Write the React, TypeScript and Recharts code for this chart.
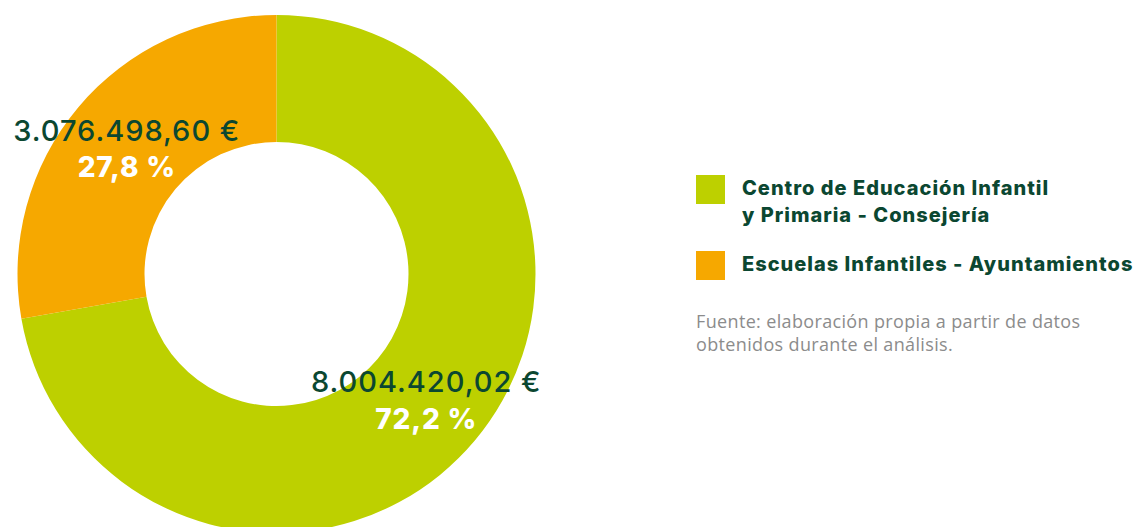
import { Cell, Legend, Pie, PieChart } from 'recharts';

// Chart data
const categories = ['Centro de Educación Infantil\ny Primaria - Consejería', 'Escuelas Infantiles - Ayuntamientos'];
const amounts = [8004420.02, 3076498.6];
const colors = ['#BDD000', '#F6A800'];
const sourceNote = ['Fuente: elaboración propia a partir de datos', 'obtenidos durante el análisis.'];

const data = categories.map((name, i) => ({ name, value: amounts[i], color: colors[i] }));

const DARK = '#0B4731';
const RADIAN = Math.PI / 180;

const formatEuro = (v: number) => {
    const [intPart, dec] = v.toFixed(2).split('.');
    const grouped = intPart.replace(/\B(?=(\d{3})+(?!\d))/g, '.');
    return `${grouped},${dec} €`;
};

const renderLabel = (props: any) => {
    const { cx, cy, midAngle, innerRadius, outerRadius, value, percent } = props;
    const r = (innerRadius + outerRadius) / 2;
    const x = cx + r * Math.cos(-midAngle * RADIAN);
    const y = cy + r * Math.sin(-midAngle * RADIAN);
    const pct = `${(percent * 100).toFixed(1).replace('.', ',')} %`;
    return (
        <g>
            <text
                x={x}
                y={y - 18}
                textAnchor="middle"
                dominantBaseline="central"
                fill={DARK}
                fontSize={29}
                fontWeight={500}
                letterSpacing={1}
                fontFamily="Inter, sans-serif"
            >
                {formatEuro(value)}
            </text>
            <text
                x={x}
                y={y + 19}
                textAnchor="middle"
                dominantBaseline="central"
                fill="#FFFFFF"
                fontSize={28}
                fontWeight={800}
                letterSpacing={0.8}
                fontFamily="Inter, sans-serif"
            >
                {pct}
            </text>
        </g>
    );
};

const CustomLegend = () => (
    <div style={{ fontFamily: 'Inter, sans-serif' }}>
        {data.map((d, i) => (
            <div key={i} style={{ display: 'flex', alignItems: 'flex-start', marginBottom: i === 0 ? 22 : 0 }}>
                <div style={{ width: 29, height: 29, background: d.color, flexShrink: 0 }} />
                <div
                    style={{
                        marginLeft: 17,
                        color: DARK,
                        fontWeight: 800,
                        fontSize: 20,
                        letterSpacing: 1,
                        lineHeight: '27px',
                        whiteSpace: 'pre',
                        marginTop: 0,
                    }}
                >
                    {d.name}
                </div>
            </div>
        ))}
        <div
            style={{
                marginTop: 30,
                color: '#8C8C8C',
                fontSize: 18,
                letterSpacing: 0.35,
                lineHeight: '23px',
                fontFamily: '"Open Sans", sans-serif',
            }}
        >
            {sourceNote.map((line, i) => (
                <div key={i}>{line}</div>
            ))}
        </div>
    </div>
);

export default function App() {
    return (
        <div style={{ position: 'absolute', left: 0, top: 0, width: 1135, height: 527, background: '#fff' }}>
            <PieChart width={1135} height={527} margin={{ top: 0, right: 0, bottom: 0, left: 0 }}>
                <Pie
                    data={data}
                    dataKey="value"
                    nameKey="name"
                    cx={276.5}
                    cy={274}
                    innerRadius={132}
                    outerRadius={259}
                    startAngle={90}
                    endAngle={-270}
                    stroke="none"
                    label={renderLabel}
                    labelLine={false}
                    isAnimationActive={false}
                >
                    {data.map((d, i) => (
                        <Cell key={i} fill={d.color} />
                    ))}
                </Pie>
                <Legend
                    content={<CustomLegend />}
                    wrapperStyle={{ position: 'absolute', left: 696, top: 175, width: 439 }}
                />
            </PieChart>
        </div>
    );
}
